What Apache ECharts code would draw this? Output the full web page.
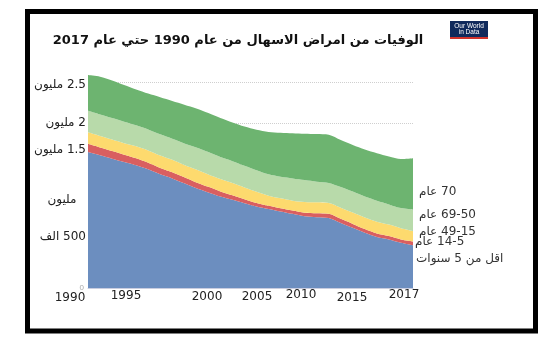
<!DOCTYPE html>
<html>
<head>
<meta charset="utf-8">
<script src="https://cdn.jsdelivr.net/npm/echarts@6/dist/echarts.min.js"></script>
<style>
  html, body { margin: 0; padding: 0; background: #fff; }
  #chart { width: 549px; height: 350px; }
</style>
</head>
<body>
<div id="chart" dir="rtl"></div>
<script>
// deaths in thousands, by age group
const years = []
for (let y = 1990; y <= 2017; y++) years.push(String(y))

const under5 = [1650,1610,1570,1530,1490,1440,1380,1330,1270,1210,1160,1110,1070,1030,990,960,930,900,870,860,850,790,730,670,620,590,550,520]
const age5to14 = [100,96,92,88,84,80,78,76,74,72,68,62,55,48,42,38,38,40,44,48,50,50,48,45,42,40,40,45]
const age15to49 = [140,140,140,140,146,150,150,150,150,155,150,150,148,142,136,122,120,120,131,132,132,135,137,140,143,140,135,125]
const age50to69 = [260,260,260,260,255,255,257,256,261,268,272,268,267,265,262,260,262,270,265,250,243,250,255,255,255,245,245,260]
const age70plus = [435,459,458,447,435,435,450,458,470,475,475,475,470,475,490,515,535,548,562,578,585,570,565,570,575,580,595,625]

const seriesNames = ['اقل من 5 سنوات', '14-5 عام', '49-15 عام', '69-50 عام', '70 عام']
const seriesColors = ['#6c8ebf', '#d95f60', '#fdda6e', '#b8daaa', '#6db470']

const gridValues = [500, 1000, 1500, 2000, 2500]
const yTickLabels = ['500 الف', 'مليون', '1.5 مليون', '2 مليون', '2.5 مليون']
const xTickLabels = ['1990', '1995', '2000', '2005', '2010', '2015', '2017']

const title = 'الوفيات من امراض الاسهال من عام 1990 حتي عام 2017'

const font = 'DejaVu Sans'
const chart = echarts.init(document.getElementById('chart'))

const txt = (x, y, text, opts) => ({
    type: 'text',
    x, y,
    silent: true,
    style: Object.assign({
        text,
        fill: '#222',
        font: '12px "' + font + '"',
        align: 'right',
        verticalAlign: 'middle'
    }, opts || {})
})

// hand placed labels, as in the picture
const yLabelPos = [[86, 237, 'right'], [62, 200, 'center'], [86, 150, 'right'], [86, 123, 'right'], [86, 85, 'right']]
const xLabelPos = [[70, 298], [126, 296], [207, 297], [257, 297], [301, 295], [352, 298], [404, 295]]
const sideLabelPos = [[416, 259], [415, 242], [419, 232], [419, 215], [419, 192]]

const graphics = [
    {
        type: 'rect',
        shape: { x: 27.5, y: 11.5, width: 508, height: 319.5 },
        style: { fill: 'none', stroke: '#000', lineWidth: 5 },
        silent: true
    },
    txt(238, 41, title, { align: 'center', font: 'bold 13px "' + font + '"', fill: '#111' }),
    {
        type: 'rect',
        shape: { x: 450, y: 21, width: 38, height: 18 },
        style: { fill: '#102a5c' }
    },
    {
        type: 'rect',
        shape: { x: 450, y: 37, width: 38, height: 2 },
        style: { fill: '#d1342c' }
    },
    txt(469, 26, 'Our World', { align: 'center', fill: '#fff', font: '6.5px "Liberation Sans"' }),
    txt(469, 32.5, 'in Data', { align: 'center', fill: '#fff', font: '6.5px "Liberation Sans"' })
]
yTickLabels.forEach((t, i) => graphics.push(txt(yLabelPos[i][0], yLabelPos[i][1], t, { align: yLabelPos[i][2] })))
xTickLabels.forEach((t, i) => graphics.push(txt(xLabelPos[i][0], xLabelPos[i][1], t, { align: 'center' })))
seriesNames.forEach((t, i) => graphics.push(txt(sideLabelPos[i][0], sideLabelPos[i][1], t, { align: 'left', fill: '#333' })))

const seriesData = [under5, age5to14, age15to49, age50to69, age70plus]

const option = {
    animation: false,
    backgroundColor: '#fff',
    grid: { left: 88, right: 136, top: 73.8, bottom: 62 },
    xAxis: {
        type: 'category',
        boundaryGap: false,
        data: years,
        axisLine: { lineStyle: { color: '#c9cde0', width: 1 } },
        axisTick: { show: false },
        axisLabel: { show: false }
    },
    yAxis: {
        type: 'value',
        min: 0,
        max: 2600,
        interval: 500,
        splitLine: { show: false },
        axisLine: { show: false },
        axisTick: { show: false },
        axisLabel: {
            formatter: v => v === 0 ? '0' : '',
            fontSize: 8,
            color: '#aaa',
            margin: 4
        }
    },
    series: seriesData.map((d, i) => {
        const s = {
            name: seriesNames[i],
            type: 'line',
            stack: 'deaths',
            data: d,
            smooth: 0.3,
            symbol: 'none',
            lineStyle: { width: 0 },
            areaStyle: { color: seriesColors[i], opacity: 1 },
            itemStyle: { color: seriesColors[i] }
        }
        if (i === 0) {
            s.markLine = {
                z: 1,
                silent: true,
                symbol: 'none',
                label: { show: false },
                lineStyle: { color: '#cfcfcf', type: 'dotted', width: 1 },
                data: gridValues.map(v => ({ yAxis: v }))
            }
        }
        return s
    }),
    graphic: graphics
}

chart.setOption(option)
</script>
</body>
</html>
